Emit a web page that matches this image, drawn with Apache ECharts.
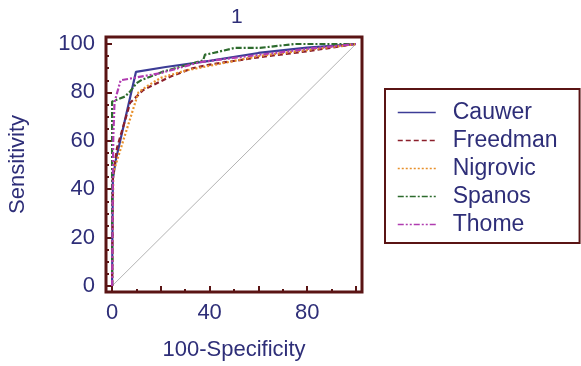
<!DOCTYPE html>
<html>
<head>
<meta charset="utf-8">
<script src="https://cdn.jsdelivr.net/npm/echarts@6/dist/echarts.min.js"></script>
<style>html,body{margin:0;padding:0;background:#fff;}#c{width:581px;height:366px;}</style>
</head>
<body>
<div id="c"></div>
<script>
var seriesNames = ['Cauwer', 'Freedman', 'Nigrovic', 'Spanos', 'Thome'];
var cauwer = [[0,0],[0.3,44],[1.5,52],[9.8,88.5],[22,90.5],[40,93],[60,96.3],[80,98.5],[100,100]];
var freedman = [[0,0],[0.3,45],[2,57],[7.4,75.7],[12.8,81],[23.8,86.5],[33,90],[40,91.5],[60,94.5],[80,97],[100,100]];
var nigrovic = [[0,0],[0.5,47],[10.8,80],[15,83],[20,86],[30,89],[40,91],[60,95],[80,97.5],[100,100]];
var spanos = [[0,0],[0,76.2],[5.3,78.3],[7.4,80.4],[10,83.8],[12.2,85.2],[15.6,86.5],[20.9,88.6],[37.3,93.2],[38.1,95.6],[41.5,96.3],[50.4,98.4],[60.6,98.4],[75,100],[100,100]];
var thome = [[0,0],[0.3,45],[0.5,62],[1,76],[3.5,85],[20,88],[36,92.5],[60,95.5],[80,98],[100,100]];
var diagonal = [[0,0],[100,100]];
var xLabels = [0, 40, 80];
var xMajor = [0, 20, 40, 60, 80, 100];
var xMinor = [10, 30, 50, 70, 90];
var yLabels = [0, 20, 40, 60, 80, 100];
var yMinor = [5,10,15,25,30,35,45,50,55,65,70,75,85,90,95];

var navy = '#2e2e78';
var maroon = '#5a1414';
var font = 'Liberation Sans, Arial, sans-serif';

var chart = echarts.init(document.getElementById('c'));
function mk(name, data, color, type) {
  return {
    name: name, type: 'line', data: data, symbol: 'none', smooth: false,
    lineStyle: {color: color, width: 2.2, type: type},
    itemStyle: {color: color}, z: 3
  };
}
chart.setOption({
  animation: false,
  title: {text: '1', left: 226, top: 2, textStyle: {color: navy, fontSize: 21, fontWeight: 'normal', fontFamily: font}},
  grid: {left: 106, top: 37, right: 219, bottom: 73, show: true, borderColor: maroon, borderWidth: 3, backgroundColor: '#fff'},
  legend: {
    orient: 'vertical', left: 385, top: 89,
    data: seriesNames,
    itemWidth: 38, itemHeight: 14, itemGap: 5,
    padding: [12, 22, 7, 12],
    borderColor: maroon, borderWidth: 2,
    itemStyle: {opacity: 0},
    lineStyle: {width: 1.5},
    textStyle: {color: navy, fontSize: 23, fontFamily: font, lineHeight: 22, padding: [0, 0, 0, 12]}
  },
  xAxis: [
    {type: 'value', min: -2.5, max: 102.5, gridIndex: 0,
     name: '100-Specificity', nameLocation: 'middle', nameGap: 47,
     nameTextStyle: {color: navy, fontSize: 22, fontFamily: font},
     axisLine: {show: false, onZero: false}, splitLine: {show: false},
     axisTick: {show: true, inside: true, length: 6, customValues: xMajor, lineStyle: {color: maroon, width: 2}},
     axisLabel: {customValues: xLabels, color: navy, fontSize: 22, fontFamily: font, margin: 10}},
    {type: 'value', min: -2.5, max: 102.5, gridIndex: 0, position: 'bottom',
     axisLine: {show: false, onZero: false}, splitLine: {show: false},
     axisTick: {show: true, inside: true, length: 3, customValues: xMinor, lineStyle: {color: maroon, width: 2}},
     axisLabel: {show: false}}
  ],
  yAxis: [
    {type: 'value', min: -2.5, max: 102.9, gridIndex: 0,
     name: 'Sensitivity', nameLocation: 'middle', nameGap: 77,
     nameTextStyle: {color: navy, fontSize: 22, fontFamily: font},
     axisLine: {show: false, onZero: false}, splitLine: {show: false},
     axisTick: {show: true, inside: true, length: 6, customValues: yLabels, lineStyle: {color: maroon, width: 2}},
     axisLabel: {customValues: yLabels, color: navy, fontSize: 22, fontFamily: font, margin: 11}},
    {type: 'value', min: -2.5, max: 102.9, gridIndex: 0, position: 'left',
     axisLine: {show: false, onZero: false}, splitLine: {show: false},
     axisTick: {show: true, inside: true, length: 3, customValues: yMinor, lineStyle: {color: maroon, width: 2}},
     axisLabel: {show: false}}
  ],
  series: [
    {name: 'diag', type: 'line', data: diagonal, symbol: 'none', lineStyle: {color: '#b4b4b4', width: 1}, itemStyle: {color: '#b4b4b4'}, z: 2},
    mk('Cauwer', cauwer, '#3c3c96', 'solid'),
    mk('Freedman', freedman, '#8b1f2b', [5, 3]),
    mk('Nigrovic', nigrovic, '#e8902a', [2, 2]),
    mk('Spanos', spanos, '#2d6b2d', [6, 2, 2, 2]),
    mk('Thome', thome, '#b03cb0', [6, 2, 2, 2, 2, 2])
  ]
});
</script>
</body>
</html>
